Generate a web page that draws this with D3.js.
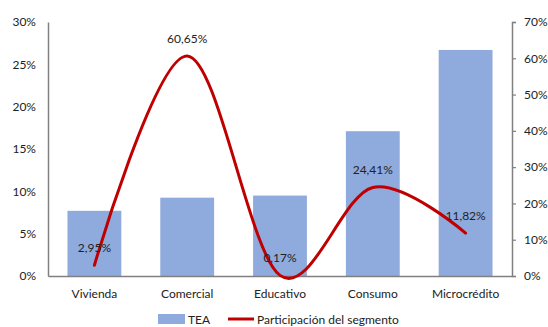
<!DOCTYPE html>
<html>
<head>
<meta charset="utf-8">
<script src="https://cdn.jsdelivr.net/npm/d3@7"></script>
<style>
	body { margin: 0; background: #fff; }
	svg text { font-family: Lato, 'Noto Sans', sans-serif; font-size: 12px; fill: #222; }
</style>
</head>
<body>
<script>
'use strict';

const categories = ['Vivienda', 'Comercial', 'Educativo', 'Consumo', 'Microcrédito'];
const tea = [7.7, 9.25, 9.5, 17.1, 26.7];
const participacion = [2.95, 60.65, 0.17, 24.41, 11.82];
const participacionLabels = ['2,95%', '60,65%', '0,17%', '24,41%', '11,82%'];
const leftTicks = [0, 5, 10, 15, 20, 25, 30];
const rightTicks = [0, 10, 20, 30, 40, 50, 60, 70];

const margin = { top: 22, right: 36, bottom: 51, left: 48 },
	width = 548 - margin.left - margin.right,
	height = 327 - margin.top - margin.bottom;

const svg = d3.select('body').append('svg')
	.attr('width', 548)
	.attr('height', 327);

const g = svg.append('g')
	.attr('transform', `translate(${margin.left},${margin.top})`);

const x = d3.scaleBand().domain(categories).range([0, width]).paddingInner(0.42).paddingOuter(0.21);
const yL = d3.scaleLinear().domain([0, 30]).range([height, 0]);
const yR = d3.scaleLinear().domain([0, 70]).range([height, 0]);

// bars
g.selectAll('rect.bar').data(tea).enter().append('rect')
	.attr('class', 'bar')
	.attr('x', (d, i) => x(categories[i]))
	.attr('y', d => yL(d))
	.attr('width', x.bandwidth())
	.attr('height', d => height - yL(d))
	.attr('fill', '#8faadc');

// left axis
const left = g.append('g')
	.call(d3.axisLeft(yL).tickValues(leftTicks).tickSize(0).tickPadding(12).tickFormat(d => d + '%'));
left.select('.domain').attr('stroke', '#808080').attr('stroke-width', 1.5);

// right axis
const right = g.append('g')
	.attr('transform', `translate(${width},0)`)
	.call(d3.axisRight(yR).tickValues(rightTicks).tickSize(4).tickPadding(8).tickFormat(d => d + '%'));
right.select('.domain').attr('stroke', '#808080').attr('stroke-width', 1.5);
right.selectAll('.tick line').attr('stroke', '#808080').attr('stroke-width', 1.2);

// x axis
const bottom = g.append('g')
	.attr('transform', `translate(0,${height})`)
	.call(d3.axisBottom(x).tickSize(0).tickPadding(13));
bottom.select('.domain').attr('stroke', '#808080').attr('stroke-width', 1.5);

svg.selectAll('.tick text').attr('font-size', 12).attr('fill', '#222');

// line
const line = d3.line()
	.x((d, i) => x(categories[i]) + x.bandwidth() / 2)
	.y(d => yR(d))
	.curve(d3.curveCardinal.tension(0));

g.append('path')
	.datum(participacion)
	.attr('d', line)
	.attr('fill', 'none')
	.attr('stroke', '#c00000')
	.attr('stroke-width', 3)
	.attr('stroke-linecap', 'round');

g.selectAll('text.lbl').data(participacion).enter().append('text')
	.attr('class', 'lbl')
	.attr('x', (d, i) => x(categories[i]) + x.bandwidth() / 2)
	.attr('y', d => yR(d) - 13)
	.attr('text-anchor', 'middle')
	.text((d, i) => participacionLabels[i]);

// legend (sits at the bottom edge)
const legend = svg.append('g').attr('transform', 'translate(158,319)');
legend.append('rect').attr('x', 0).attr('y', -5).attr('width', 27).attr('height', 10).attr('fill', '#8faadc');
legend.append('text').attr('x', 30).attr('y', 4.5).attr('font-size', 12.5).text('TEA');
legend.append('line').attr('x1', 70).attr('x2', 96).attr('y1', 0).attr('y2', 0)
	.attr('stroke', '#c00000').attr('stroke-width', 3);
legend.append('text').attr('x', 99).attr('y', 4.5).attr('font-size', 12.5).text('Participación del segmento');
</script>
</body>
</html>
